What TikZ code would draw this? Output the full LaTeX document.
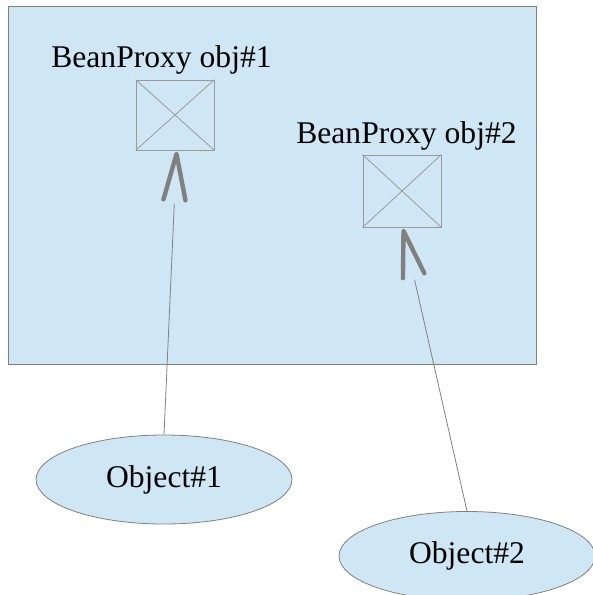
\documentclass[tikz,border=0pt]{standalone}
\usepackage{fontspec}
\setmainfont{Liberation Serif}
\usetikzlibrary{shapes.geometric,calc,positioning}
\definecolor{paleblue}{HTML}{CFE7F5}
\definecolor{edgegray}{HTML}{808080}
\tikzset{
proxybox/.style={
  rectangle,
  draw=edgegray!80,
  minimum width=39pt,
  minimum height=35pt,
  inner sep=0pt
  },
objnode/.style={
  ellipse,
  draw=edgegray,
  fill=paleblue,
  minimum width=128pt,
  minimum height=44.5pt,
  inner sep=0pt,
  font=\fontsize{15.8}{18}\selectfont
  },
proxylabel/.style={
  anchor=base,
  inner sep=0pt,
  font=\fontsize{15.8}{18}\selectfont
  },
vhead/.style={draw=edgegray, line width=2.2pt, line cap=round, line join=round},
link/.style={draw=edgegray, line width=0.4pt}
}

\begin{document}
\begin{tikzpicture}[x=0.5pt,y=-0.5pt]
\useasboundingbox (0,0) rectangle (593,595);

% container
\draw[draw=edgegray, fill=paleblue] (8,6) rectangle (536,364);

\node[proxybox] (bp1) at (175,115) {};
\node[proxybox, minimum height=36pt] (bp2) at (402,191) {};
\draw[edgegray!80, line width=0.4pt] (bp1.north west) -- (bp1.south east)
  (bp1.south west) -- (bp1.north east);
\draw[edgegray!80, line width=0.4pt] (bp2.north west) -- (bp2.south east)
  (bp2.south west) -- (bp2.north east);

\node[proxylabel] (lbl1) at (161.5,67) {BeanProxy obj\#1};
\node[proxylabel] (lbl2) at (406.5,143) {BeanProxy obj\#2};

\node[objnode] (obj1) at (164,479.5) {Object\#1};
\node[objnode] (obj2) at (467,556) {Object\#2};

% heads
\coordinate (t1) at ($(bp1.south)+(1.5,3.5)$);
\coordinate (b1) at ($(t1)!23pt!(obj1.north)$);
\draw[vhead] ($(b1)!5.5pt!90:(t1)$) -- (t1) -- ($(b1)!5.5pt!-90:(t1)$);
\draw[link] (obj1.north) -- ($(t1)!25pt!(obj1.north)$);

\coordinate (t2) at ($(bp2.south)+(1.5,3.5)$);
\coordinate (b2) at ($(t2)!23pt!(obj2.north)$);
\draw[vhead] ($(b2)!5.5pt!90:(t2)$) -- (t2) -- ($(b2)!5.5pt!-90:(t2)$);
\draw[link] (obj2.north) -- ($(t2)!25pt!(obj2.north)$);

\end{tikzpicture}
\end{document}
